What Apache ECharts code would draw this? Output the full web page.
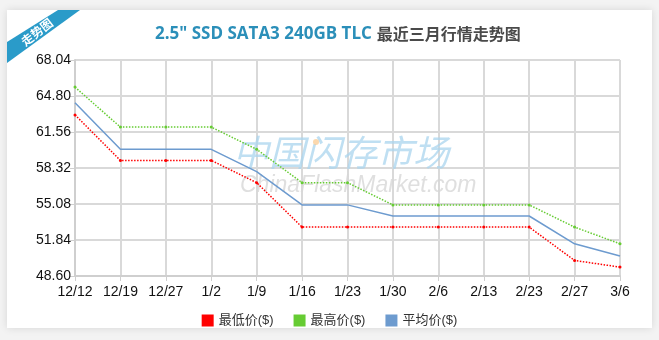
<!DOCTYPE html>
<html><head><meta charset="utf-8">
<script src="https://cdn.jsdelivr.net/npm/echarts@6/dist/echarts.min.js"></script>
<style>html,body{margin:0;padding:0;background:#f3f3f3;}#c{width:659px;height:340px;}</style>
</head><body><div id="c"></div>
<script>
const categories = ['12/12','12/19','12/27','1/2','1/9','1/16','1/23','1/30','2/6','2/13','2/23','2/27','3/6'];
const lowPrice  = [63.1, 59.0, 59.0, 59.0, 57.0, 53.0, 53.0, 53.0, 53.0, 53.0, 53.0, 50.0, 49.4];
const highPrice = [65.6, 62.0, 62.0, 62.0, 60.0, 57.0, 57.0, 55.0, 55.0, 55.0, 55.0, 53.0, 51.5];
const avgPrice  = [64.2, 60.0, 60.0, 60.0, 58.0, 55.0, 55.0, 54.0, 54.0, 54.0, 54.0, 51.5, 50.4];
const seriesNames = ['最低价($)', '最高价($)', '平均价($)'];
const titleMain = '2.5" SSD SATA3 240GB TLC';
const titleSub = '最近三月行情走势图';

const chart = echarts.init(document.getElementById('c'));
const font = '"Liberation Sans", "Noto Sans CJK SC", sans-serif';
chart.setOption({
  backgroundColor: '#f3f3f3',
  animation: false,
  title: {
    text: '{a|' + titleMain + '} {b|' + titleSub + '}',
    left: 150, top: 20,
    textStyle: { rich: {
      a: { fontSize: 17, fontWeight: 'bold', color: '#2b8fb9', fontFamily: '"Open Sans", sans-serif' },
      b: { fontSize: 16, fontWeight: 'bold', color: '#4a4a4a', fontFamily: '"Noto Sans CJK SC", sans-serif' }
    }}
  },
  graphic: [
    { type: 'rect', z: -10, shape: { x: 7, y: 10, width: 645, height: 318 },
      style: { fill: '#fff', shadowBlur: 8, shadowColor: 'rgba(0,0,0,0.12)' } },
    { type: 'polygon', z: 10, shape: { points: [[58,10],[80,10],[7,63],[7,42]] }, style: { fill: '#2a9bc9' } },
    { type: 'text', z: 11, x: 37, y: 32, rotation: 38 * Math.PI / 180,
      style: { text: '走势图', fill: '#fff', font: 'bold 12px "Noto Sans CJK SC"', align: 'center', verticalAlign: 'middle' } },
    { type: 'text', z: 1, left: 233, top: 134, style: { text: '中国闪存市场', fill: 'rgba(170,212,238,0.75)', font: 'italic 36px "Noto Sans CJK SC"' } },
    { type: 'circle', z: 1, shape: { cx: 316, cy: 142, r: 3 }, style: { fill: 'rgba(250,200,140,0.7)' } },
    { type: 'text', z: 1, left: 240, top: 174, style: { text: 'ChinaFlashMarket.com', fill: 'rgba(215,215,215,0.8)', font: 'italic 23px "Liberation Sans"' } }
  ],
  legend: {
    bottom: 8, left: 'center', icon: 'rect', itemWidth: 12, itemHeight: 12, itemGap: 20,
    textStyle: { fontSize: 13, color: '#333', fontFamily: font },
    data: seriesNames
  },
  grid: { left: 75, right: 39, top: 60, bottom: 64 },
  xAxis: {
    type: 'category', boundaryGap: false, data: categories,
    axisLine: { lineStyle: { color: '#cfcfcf', width: 2 } },
    axisTick: { show: true, length: 5, interval: 0, lineStyle: { color: '#cfcfcf' } },
    axisLabel: { color: '#111', fontSize: 14, margin: 9, interval: 0, fontFamily: font },
    splitLine: { show: true, interval: 0, lineStyle: { color: '#d9d9d9', width: 2 } }
  },
  yAxis: {
    type: 'value', min: 48.6, max: 68.04, interval: 3.24,
    axisLine: { show: true, lineStyle: { color: '#cfcfcf', width: 2 } },
    axisTick: { show: true, length: 5, lineStyle: { color: '#cfcfcf' } },
    axisLabel: { color: '#111', fontSize: 14, margin: 4, fontFamily: font, formatter: v => v.toFixed(2) },
    splitLine: { lineStyle: { color: '#d9d9d9', width: 2 } }
  },
  series: [
    { name: seriesNames[0], type: 'line', data: lowPrice, color: '#ff0000', symbol: 'circle', symbolSize: 3,
      lineStyle: { type: 'dotted', width: 1.5 }, z: 5 },
    { name: seriesNames[1], type: 'line', data: highPrice, color: '#66cc33', symbol: 'circle', symbolSize: 3,
      lineStyle: { type: 'dotted', width: 1.5 }, z: 5 },
    { name: seriesNames[2], type: 'line', data: avgPrice, color: '#6d9bcf', symbol: 'none',
      lineStyle: { width: 1.5 }, z: 5 }
  ]
});
</script></body></html>
